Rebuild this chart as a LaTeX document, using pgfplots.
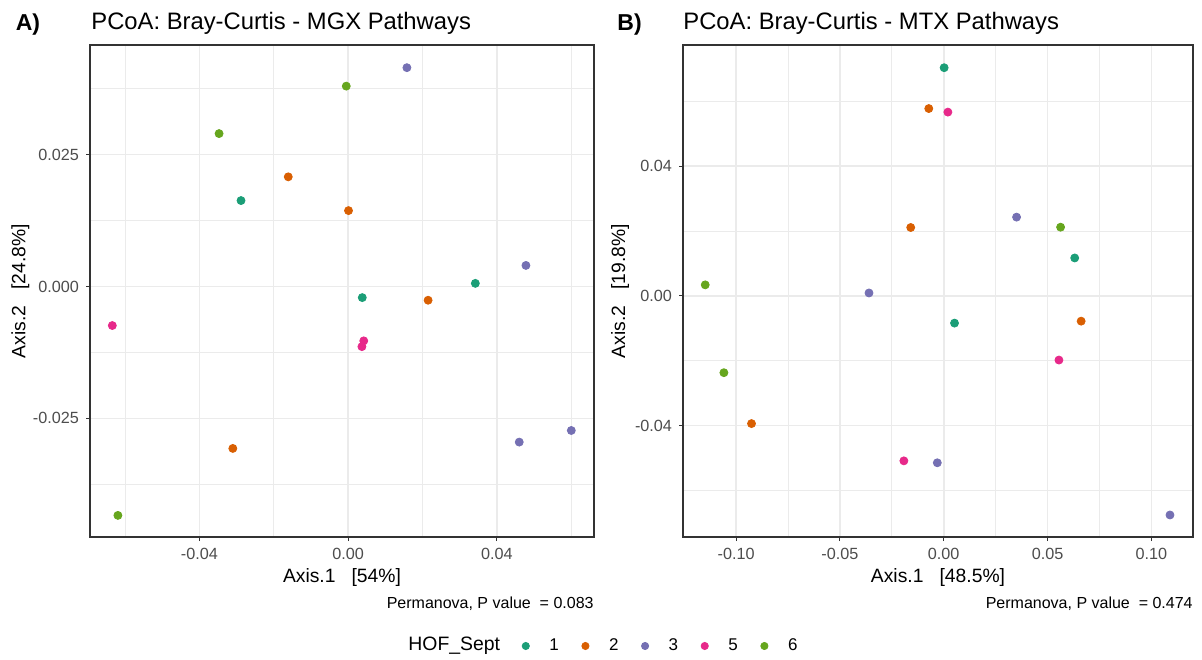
\documentclass[border=0pt]{standalone}
\usepackage{pgfplots}
\pgfplotsset{compat=1.18}
\usepackage{fontspec}
\setmainfont{Liberation Sans}

% ColorBrewer Dark2
\definecolor{g1}{HTML}{1B9E77}
\definecolor{g2}{HTML}{D95F02}
\definecolor{g3}{HTML}{7570B3}
\definecolor{g5}{HTML}{E7298A}
\definecolor{g6}{HTML}{66A61E}
\definecolor{gridc}{HTML}{EBEBEB}
\definecolor{framec}{HTML}{333333}
\definecolor{tickc}{HTML}{4D4D4D}

\pgfplotsset{
  pcoa/.style={
    scale only axis,
    height=246pt,
    scaled ticks=false,
    axis line style={framec, line width=0.55pt},
    tick align=outside,
    xtick pos=bottom, ytick pos=left,
    major tick length=2pt, minor tick length=0pt,
    every tick/.style={framec, line width=0.5pt},
    grid=both,
    major grid style={gridc, line width=0.8pt},
    minor grid style={gridc, line width=0.4pt},
    ticklabel style={font=\fontsize{8.1}{9}\selectfont, text=tickc},
    label style={font=\fontsize{9.65}{11}\selectfont},
    xlabel style={at={(axis description cs:0.5,0)}, anchor=base, yshift=-22.5pt},
    every axis plot/.append style={only marks, mark=*, mark size=2pt},
  },
}

\begin{document}
\begin{tikzpicture}
\path[use as bounding box] (0,0) rectangle (601pt,-329.5pt);

% ---------- panel A ----------
\begin{axis}[pcoa, name=pA,
  at={(45pt,-268.5pt)}, anchor=south west,
  width=252pt,
  xmin=-0.0694, xmax=0.0661, ymin=-0.0475, ymax=0.0458,
  xtick={-0.04,0,0.04}, xticklabels={-0.04,0.00,0.04},
  minor xtick={-0.06,-0.02,0.02,0.06},
  ytick={-0.025,0,0.025}, yticklabels={-0.025,0.000,0.025},
  minor ytick={-0.0375,-0.0125,0.0125,0.0375},
  xlabel={Axis.1\ \ \ [54\%]},
  ylabel={Axis.2\ \ \ [24.8\%]},
  ylabel style={at={(axis description cs:-0.128,0.5)}, anchor=base},
  legend columns=5,
  legend style={at={(axis description cs:0.8567,-0.2215)}, anchor=west,
    draw=none, fill=none, inner sep=0pt,
    nodes={inner sep=0pt, font=\fontsize{8.5}{10}\selectfont},
    /tikz/every odd column/.append style={column sep=10pt},
    /tikz/every even column/.append style={column sep=11.5pt}},
  legend image code/.code={\draw[#1, mark size=1.8pt] plot coordinates {(0pt,0pt)};},
]
\addplot[g1] coordinates {(-0.0288,0.0163) (0.0342,0.0006) (0.0038,-0.0021)};
\addlegendentry{1}
\addplot[g2] coordinates {(-0.0161,0.0208) (0.0001,0.0144) (0.0215,-0.0026) (-0.0310,-0.0307)};
\addlegendentry{2}
\addplot[g3] coordinates {(0.0158,0.0415) (0.0478,0.0040) (0.0460,-0.0295) (0.0600,-0.0273)};
\addlegendentry{3}
\addplot[g5] coordinates {(-0.0634,-0.0074) (0.0042,-0.0103) (0.0037,-0.0114)};
\addlegendentry{5}
\addplot[g6] coordinates {(-0.0005,0.0380) (-0.0347,0.0290) (-0.0619,-0.0434)};
\addlegendentry{6}
\end{axis}

% ---------- panel B ----------
\begin{axis}[pcoa, name=pB,
  at={(341.5pt,-268.5pt)}, anchor=south west,
  width=255pt,
  xmin=-0.1256, xmax=0.1201, ymin=-0.0744, ymax=0.0774,
  xtick={-0.1,-0.05,0,0.05,0.1}, xticklabels={-0.10,-0.05,0.00,0.05,0.10},
  minor xtick={-0.075,-0.025,0.025,0.075},
  ytick={-0.04,0,0.04}, yticklabels={-0.04,0.00,0.04},
  minor ytick={-0.06,-0.02,0.02,0.06},
  xlabel={Axis.1\ \ \ [48.5\%]},
  ylabel={Axis.2\ \ \ [19.8\%]},
  ylabel style={at={(axis description cs:-0.1137,0.5)}, anchor=base},
]
\addplot[g1] coordinates {(0.0002,0.0704) (0.0631,0.0117) (0.0052,-0.0084)};
\addplot[g2] coordinates {(-0.0072,0.0578) (-0.0159,0.0211) (0.0662,-0.0078) (-0.0926,-0.0394)};
\addplot[g3] coordinates {(0.0351,0.0243) (-0.0360,0.0009) (-0.0031,-0.0515) (0.1090,-0.0676)};
\addplot[g5] coordinates {(0.0020,0.0567) (0.0555,-0.0198) (-0.0192,-0.0509)};
\addplot[g6] coordinates {(0.0563,0.0212) (-0.1149,0.0034) (-0.1059,-0.0237)};
\end{axis}

% permanova notes
\node[anchor=base east, font=\fontsize{8}{9}\selectfont, inner sep=0pt] at ([yshift=-35.5pt]pA.south east) {Permanova, P value\ \ = 0.083};
\node[anchor=base east, font=\fontsize{8}{9}\selectfont, inner sep=0pt] at ([yshift=-35.5pt]pB.south east) {Permanova, P value\ \ = 0.474};

% titles
\node[anchor=base west, font=\bfseries\fontsize{11.5}{13}\selectfont, inner sep=0pt] at (7.7pt,-15pt) {A)};
\node[anchor=base west, font=\fontsize{11.9}{14}\selectfont, inner sep=0pt] at (45.5pt,-14.5pt) {PCoA: Bray-Curtis - MGX Pathways};
\node[anchor=base west, font=\bfseries\fontsize{11.5}{13}\selectfont, inner sep=0pt] at (308.5pt,-15pt) {B)};
\node[anchor=base west, font=\fontsize{11.9}{14}\selectfont, inner sep=0pt] at (341.5pt,-14.5pt) {PCoA: Bray-Curtis - MTX Pathways};
% legend title
\node[anchor=west, font=\fontsize{9.7}{11}\selectfont, inner sep=0pt] at (204pt,-323pt) {HOF\_Sept};
\end{tikzpicture}
\end{document}
